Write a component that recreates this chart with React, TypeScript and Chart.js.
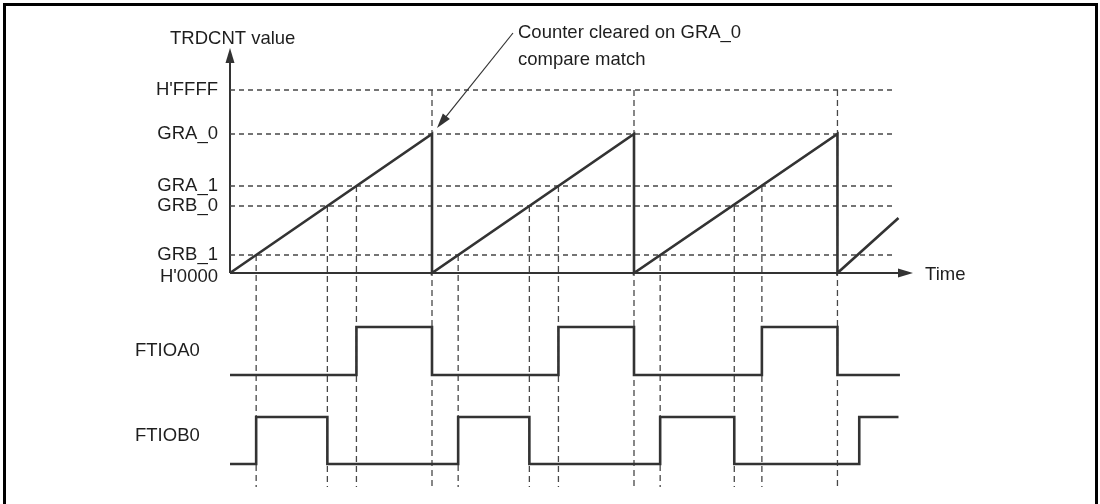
import React, { useEffect, useRef } from "react";
import { Chart, registerables } from "chart.js";

Chart.register(...registerables);

// ---- Data ----
// Register / level names and their counter values
const levelNames = ["H'FFFF", "GRA_0", "GRA_1", "GRB_0", "GRB_1", "H'0000"];
const levelValues = [183, 139, 87, 67, 18, 0];

// TRDCNT sawtooth (time, counter)
const counterTimes = [0, 139, 139, 278, 278, 418, 418, 460];
const counterValues = [0, 139, 0, 139, 0, 139, 0, 55];

// Output waveforms: 0 = low, 1 = high (step at each listed time)
const ftioa0Times = [0, 87, 139, 226, 278, 366, 418, 461];
const ftioa0Levels = [0, 1, 0, 1, 0, 1, 0, 0];
const ftiob0Times = [0, 18, 67, 157, 206, 296, 347, 433, 460];
const ftiob0Levels = [0, 1, 0, 1, 0, 1, 0, 1, 1];

// Compare-match instants (vertical dashed guides) and the level each starts from
const markerTimes = [18, 67, 87, 139, 157, 206, 226, 278, 296, 347, 366, 418];
const markerLevels = [18, 67, 87, 183, 18, 67, 87, 183, 18, 67, 87, 183];

const signalNames = ["FTIOA0", "FTIOB0"];
const yAxisTitle = "TRDCNT value";
const xAxisTitle = "Time";
const noteLines = ["Counter cleared on GRA_0", "compare match"];

// ---- Layout ----
const W = 1100;
const H = 504;
const T_ORIGIN_PX = 230;
const T_PX = 202 / 139; // px per time unit
const C_ORIGIN_PX = 273; // counter 0 pixel row, 1px per count
const A_LOW_PX = 375, A_UNIT = 48;
const B_LOW_PX = 464, B_UNIT = 47;
const GUIDE_END_T = 457;
const GUIDE_BOTTOM = -214;
const AXIS_T_END = 470;
const AXIS_C_TOP = 225;
const FONT = '18.5px "Liberation Sans", Arial, sans-serif';
const TEXT = "#1e1e1e";
const LINE = "#333";
const DASH = "#474747";

function pts(xs: number[], ys: number[]) {
  return xs.map((x, i) => ({ x, y: ys[i] }));
}

export default function App() {
  const ref = useRef<HTMLCanvasElement>(null);
  useEffect(() => {
    const canvas = ref.current!;
    const hGuides: any[] = [];
    levelValues.forEach((v) => {
      if (v === 0) return;
      hGuides.push({ x: 0, y: v }, { x: GUIDE_END_T, y: v }, { x: GUIDE_END_T, y: null });
    });
    const vGuides: any[] = [];
    markerTimes.forEach((t, i) => {
      vGuides.push({ x: t, y: markerLevels[i] }, { x: t, y: GUIDE_BOTTOM }, { x: t, y: null });
    });

    const deco = {
      id: "deco",
      beforeDatasetsDraw(chart: any) {
        const ctx = chart.ctx;
        const xs = chart.scales.x;
        const ys = chart.scales.y;
        ctx.save();
        // border
        ctx.strokeStyle = "#000";
        ctx.lineWidth = 3;
        ctx.strokeRect(4.5, 4.5, 1092, 530);
        const ox = xs.getPixelForValue(0);
        const oy = ys.getPixelForValue(0);
        const topY = ys.getPixelForValue(AXIS_C_TOP);
        const endX = xs.getPixelForValue(AXIS_T_END);
        ctx.strokeStyle = LINE;
        ctx.fillStyle = LINE;
        ctx.lineWidth = 2;
        ctx.beginPath();
        ctx.moveTo(ox, oy);
        ctx.lineTo(ox, topY + 10);
        ctx.moveTo(ox, oy);
        ctx.lineTo(endX - 10, oy);
        ctx.stroke();
        ctx.beginPath();
        ctx.moveTo(ox, topY);
        ctx.lineTo(ox - 4.5, topY + 15);
        ctx.lineTo(ox + 4.5, topY + 15);
        ctx.closePath();
        ctx.fill();
        ctx.beginPath();
        ctx.moveTo(endX, oy);
        ctx.lineTo(endX - 15, oy - 4.5);
        ctx.lineTo(endX - 15, oy + 4.5);
        ctx.closePath();
        ctx.fill();
        ctx.restore();
      },
      afterDraw(chart: any) {
        const ctx = chart.ctx;
        const xs = chart.scales.x;
        const ys = chart.scales.y;
        const ya = chart.scales.ya;
        const yb = chart.scales.yb;
        ctx.save();
        ctx.font = FONT;
        ctx.fillStyle = TEXT;
        ctx.textBaseline = "middle";
        ctx.textAlign = "right";
        levelNames.forEach((n, i) => {
          const v = levelValues[i];
          const y = ys.getPixelForValue(v) + (v === 0 ? 4 : 0);
          ctx.fillText(n, 218, y);
        });
        ctx.textAlign = "left";
        ctx.fillText(signalNames[0], 135, ya.getPixelForValue(0.5));
        ctx.fillText(signalNames[1], 135, yb.getPixelForValue(0.6));
        const ox = xs.getPixelForValue(0);
        const oy = ys.getPixelForValue(0);
        ctx.fillText(xAxisTitle, xs.getPixelForValue(AXIS_T_END) + 12, oy + 2);
        ctx.textBaseline = "alphabetic";
        ctx.fillText(yAxisTitle, ox - 60, 44);
        // annotation
        const px = xs.getPixelForValue(counterTimes[1]);
        const py = ys.getPixelForValue(counterValues[1]);
        const tipX = px + 5, tipY = py - 6;
        const sx = 513, sy = 33;
        const ang = Math.atan2(tipY - sy, tipX - sx);
        ctx.strokeStyle = "#333";
        ctx.fillStyle = "#333";
        ctx.lineWidth = 1.2;
        ctx.beginPath();
        ctx.moveTo(sx, sy);
        ctx.lineTo(tipX - 10 * Math.cos(ang), tipY - 10 * Math.sin(ang));
        ctx.stroke();
        ctx.beginPath();
        ctx.moveTo(tipX, tipY);
        ctx.lineTo(tipX - 15 * Math.cos(ang) + 4.5 * Math.sin(ang), tipY - 15 * Math.sin(ang) - 4.5 * Math.cos(ang));
        ctx.lineTo(tipX - 15 * Math.cos(ang) - 4.5 * Math.sin(ang), tipY - 15 * Math.sin(ang) + 4.5 * Math.cos(ang));
        ctx.closePath();
        ctx.fill();
        ctx.fillStyle = TEXT;
        ctx.fillText(noteLines[0], 518, 38);
        ctx.fillText(noteLines[1], 518, 65);
        ctx.restore();
      },
    };

    const chart = new Chart(canvas, {
      type: "line",
      data: {
        datasets: [
          {
            label: "TRDCNT",
            data: pts(counterTimes, counterValues),
            yAxisID: "y",
            borderColor: LINE,
            borderWidth: 2.6,
            pointRadius: 0,
            order: 0,
          },
          {
            label: signalNames[0],
            data: pts(ftioa0Times, ftioa0Levels),
            yAxisID: "ya",
            stepped: "before",
            borderColor: LINE,
            borderWidth: 2.6,
            pointRadius: 0,
            order: 0,
          },
          {
            label: signalNames[1],
            data: pts(ftiob0Times, ftiob0Levels),
            yAxisID: "yb",
            stepped: "before",
            borderColor: LINE,
            borderWidth: 2.6,
            pointRadius: 0,
            order: 0,
          },
          {
            label: "levels",
            data: hGuides,
            yAxisID: "y",
            borderColor: DASH,
            borderWidth: 1.3,
            borderDash: [5, 4],
            pointRadius: 0,
            spanGaps: false,
            order: 2,
          },
          {
            label: "matches",
            data: vGuides,
            yAxisID: "y",
            borderColor: DASH,
            borderWidth: 1.3,
            borderDash: [6, 4],
            pointRadius: 0,
            spanGaps: false,
            order: 2,
          },
        ] as any,
      },
      options: {
        animation: false,
        responsive: false,
        devicePixelRatio: 1,
        layout: { padding: 0 },
        plugins: { legend: { display: false }, tooltip: { enabled: false }, title: { display: false } },
        events: [],
        scales: {
          x: {
            type: "linear",
            display: false,
            min: -T_ORIGIN_PX / T_PX,
            max: (W - T_ORIGIN_PX) / T_PX,
          },
          y: { type: "linear", display: false, min: -(H - C_ORIGIN_PX), max: C_ORIGIN_PX },
          ya: { type: "linear", display: false, min: -(H - A_LOW_PX) / A_UNIT, max: A_LOW_PX / A_UNIT },
          yb: { type: "linear", display: false, min: -(H - B_LOW_PX) / B_UNIT, max: B_LOW_PX / B_UNIT },
        },
      } as any,
      plugins: [deco],
    });
    return () => chart.destroy();
  }, []);

  return (
    <div style={{ position: "fixed", left: 0, top: 0, width: W, height: H, background: "#fff" }}>
      <canvas ref={ref} width={W} height={H} style={{ display: "block", width: W, height: H }} />
    </div>
  );
}
